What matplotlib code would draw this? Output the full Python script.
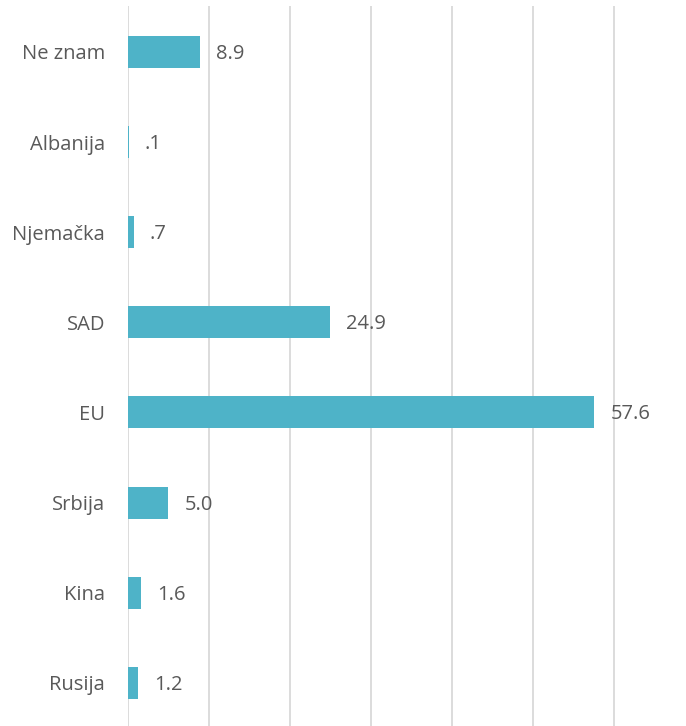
import matplotlib
matplotlib.use("Agg")
import matplotlib.pyplot as plt

categories = ["Ne znam", "Albanija", "Njemačka", "SAD", "EU", "Srbija", "Kina", "Rusija"]
values = [8.9, 0.1, 0.7, 24.9, 57.6, 5.0, 1.6, 1.2]

def fmt(v):
    s = f"{v:.1f}"
    if s.startswith("0."):
        s = s[1:]
    return s

plt.rcParams['font.family'] = ['Open Sans', 'DejaVu Sans']

fig = plt.figure(figsize=(6.86, 7.26), dpi=100)
ax = fig.add_axes([128/686, 0, 1 - 128/686, 1 - 6/726])

pos = list(range(len(categories)))
ax.barh(pos, values, height=0.355, color="#4EB3C8", zorder=3)
for p, v in zip(pos, values):
    ax.annotate(fmt(v), (v, p), xytext=(11.5, -1.5), textcoords="offset points",
                va="center", ha="left", fontsize=14.5, color="#595959")

ax.set_ylim(7.48, -0.51)
ax.set_xlim(0, 68.9)
ax.set_xticks([0, 10, 20, 30, 40, 50, 60])
ax.set_xticklabels([])
ax.set_yticks(pos)
ax.set_yticklabels(categories, fontsize=14.5, color="#595959")
ax.tick_params(axis="y", length=0, pad=16.5)
ax.tick_params(axis="x", length=0)
ax.grid(axis="x", color="#D9D9D9", linewidth=1.3, zorder=0)
for s in ax.spines.values():
    s.set_visible(False)

fig.savefig("out.png", dpi=100)
